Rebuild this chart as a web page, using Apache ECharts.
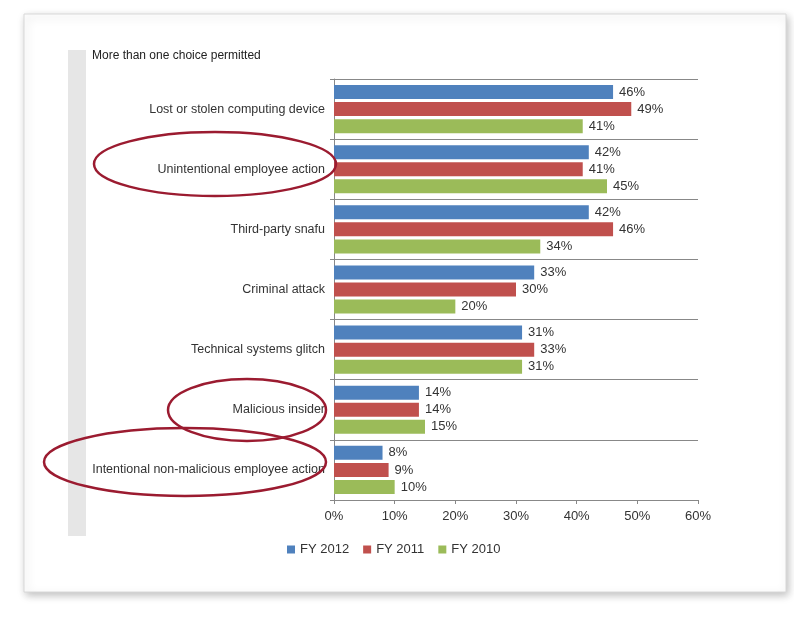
<!DOCTYPE html>
<html><head><meta charset="utf-8">
<script src="https://cdn.jsdelivr.net/npm/echarts@6/dist/echarts.min.js"></script>
<style>html,body{margin:0;padding:0;background:#fff}#c{width:794px;height:623px}</style>
</head><body><div id="c"></div>
<script>
const categories = ["Lost or stolen computing device","Unintentional employee action","Third-party snafu","Criminal attack","Technical systems glitch","Malicious insider","Intentional non-malicious employee action"];
const fy2012 = [46,42,42,33,31,14,8];
const fy2011 = [49,41,46,30,33,14,9];
const fy2010 = [41,45,34,20,31,15,10];
const xTicks = [0,10,20,30,40,50,60];
const seriesNames = ["FY 2012","FY 2011","FY 2010"];
const colors = ["#4F81BD","#C0504D","#9BBB59"];

const chart = echarts.init(document.getElementById('c'), null, {renderer:'canvas'});
const font = "Liberation Sans, Arial, sans-serif";
function mk(name, data, color){
  return {name, type:'bar', data, barWidth:14, barGap:'22%',
    itemStyle:{color},
    label:{show:true, position:'right', distance:6, formatter:p=>p.value+'%', color:'#333', fontSize:13, fontFamily:font}};
}
const ring = '#9B1B30';
chart.setOption({
  animation:false,
  textStyle:{fontFamily:font},
  graphic:[
    {type:'rect', z:-10, shape:{x:24,y:14,width:762,height:578}, style:{fill:'#fff', stroke:'#d8d8d8', lineWidth:1, shadowBlur:8, shadowColor:'rgba(0,0,0,0.25)', shadowOffsetX:2, shadowOffsetY:3}},
    {type:'rect', z:-9, shape:{x:68,y:50,width:18,height:486}, style:{fill:'#e6e6e6'}},
    {type:'text', left:92, top:50, style:{text:'More than one choice permitted', font:'12px '+font, fill:'#222'}},
    {type:'ellipse', z:100, shape:{cx:215,cy:164,rx:121,ry:32}, style:{fill:'none', stroke:ring, lineWidth:2.5}},
    {type:'ellipse', z:100, shape:{cx:247,cy:410,rx:79,ry:31}, style:{fill:'none', stroke:ring, lineWidth:2.5}},
    {type:'ellipse', z:100, shape:{cx:185,cy:462,rx:141,ry:34}, style:{fill:'none', stroke:ring, lineWidth:2.5}}
  ],
  legend:{data:seriesNames, left:282, top:538, itemWidth:8, itemHeight:8, itemGap:14, icon:'rect',
    textStyle:{fontSize:13, color:'#333', fontFamily:font}},
  grid:{left:334, top:79, width:364, height:421},
  xAxis:{type:'value', min:0, max:60, interval:10,
    axisLabel:{formatter:v=>v+'%', color:'#333', fontSize:13, margin:10},
    axisLine:{show:true, lineStyle:{color:'#888'}},
    axisTick:{show:true, length:4, lineStyle:{color:'#888'}},
    splitLine:{show:false}},
  yAxis:{type:'category', data:categories, inverse:true,
    axisLabel:{color:'#333', fontSize:12.5, margin:9},
    axisLine:{show:true, lineStyle:{color:'#888'}},
    axisTick:{show:true, length:4, lineStyle:{color:'#888'}},
    splitLine:{show:true, lineStyle:{color:'#888', width:1}}},
  series:[mk(seriesNames[0],fy2012,colors[0]), mk(seriesNames[1],fy2011,colors[1]), mk(seriesNames[2],fy2010,colors[2])]
});
</script></body></html>
